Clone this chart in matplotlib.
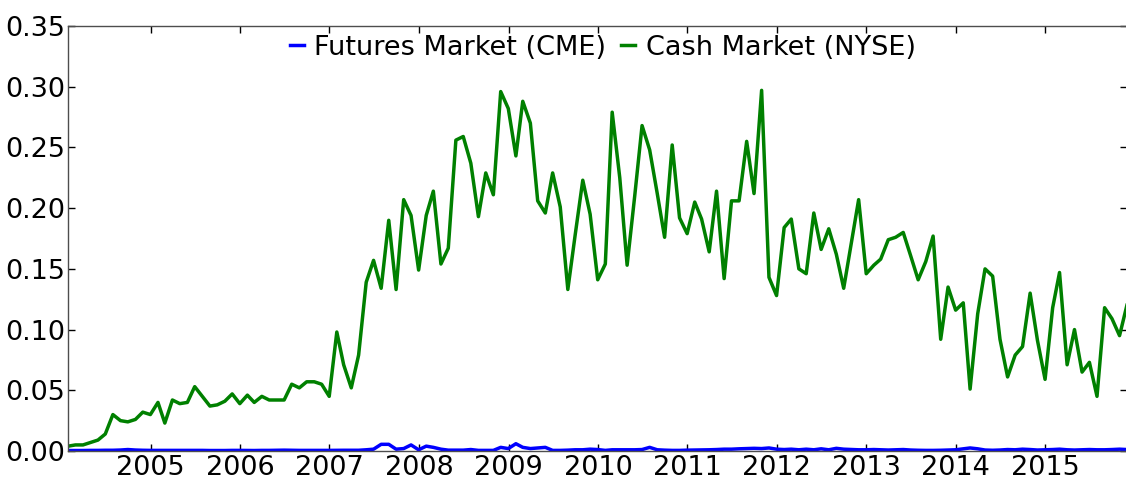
import matplotlib
matplotlib.use("Agg")
import matplotlib.pyplot as plt
import matplotlib.dates as mdates
import pandas as pd

# Monthly observations (month ends), Jan 2004 .. Nov 2015
dates = pd.date_range("2004-01-01", periods=143, freq="MS") + pd.offsets.MonthEnd(0)

cash_nyse = [
    0.004, 0.005, 0.005, 0.007, 0.009, 0.014, 0.030, 0.025, 0.024, 0.026, 0.032, 0.030,
    0.040, 0.023, 0.042, 0.039, 0.040, 0.053, 0.045, 0.037, 0.038, 0.041, 0.047, 0.039,
    0.046, 0.040, 0.045, 0.042, 0.042, 0.042, 0.055, 0.052, 0.057, 0.057, 0.055, 0.045,
    0.098, 0.071, 0.052, 0.079, 0.139, 0.157, 0.134, 0.190, 0.133, 0.207, 0.194, 0.149,
    0.194, 0.214, 0.154, 0.167, 0.256, 0.259, 0.237, 0.193, 0.229, 0.211, 0.296, 0.282,
    0.243, 0.288, 0.270, 0.206, 0.196, 0.229, 0.201, 0.133, 0.178, 0.223, 0.195, 0.141,
    0.154, 0.279, 0.225, 0.153, 0.210, 0.268, 0.248, 0.212, 0.176, 0.252, 0.192, 0.179,
    0.205, 0.191, 0.164, 0.214, 0.142, 0.206, 0.206, 0.255, 0.212, 0.297, 0.143, 0.128,
    0.184, 0.191, 0.150, 0.146, 0.196, 0.166, 0.183, 0.162, 0.134, 0.171, 0.207, 0.146,
    0.153, 0.158, 0.174, 0.176, 0.180, 0.161, 0.141, 0.156, 0.177, 0.092, 0.135, 0.116,
    0.122, 0.051, 0.113, 0.150, 0.144, 0.092, 0.061, 0.079, 0.086, 0.130, 0.091, 0.059,
    0.118, 0.147, 0.071, 0.100, 0.065, 0.073, 0.045, 0.118, 0.109, 0.095, 0.120,
]

futures_cme = [
    0.0004, 0.0004, 0.0004, 0.0005, 0.0005, 0.0006, 0.0006, 0.0008, 0.0012, 0.0008, 0.0006, 0.0005,
    0.0005, 0.0005, 0.0005, 0.0005, 0.0005, 0.0005, 0.0005, 0.0004, 0.0004, 0.0004, 0.0005, 0.0005,
    0.0004, 0.0004, 0.0005, 0.0005, 0.0006, 0.0007, 0.0006, 0.0005, 0.0005, 0.0005, 0.0005, 0.0005,
    0.0006, 0.0006, 0.0006, 0.0006, 0.0010, 0.0015, 0.0055, 0.0055, 0.0015, 0.0020, 0.0050, 0.0010,
    0.0040, 0.0030, 0.0015, 0.0007, 0.0007, 0.0007, 0.0012, 0.0005, 0.0005, 0.0005, 0.0030, 0.0020,
    0.0060, 0.0030, 0.0020, 0.0025, 0.0030, 0.0005, 0.0005, 0.0007, 0.0010, 0.0010, 0.0015, 0.0012,
    0.0005, 0.0010, 0.0010, 0.0010, 0.0010, 0.0012, 0.0030, 0.0010, 0.0007, 0.0005, 0.0005, 0.0007,
    0.0008, 0.0008, 0.0010, 0.0012, 0.0015, 0.0015, 0.0018, 0.0020, 0.0022, 0.0020, 0.0025, 0.0015,
    0.0012, 0.0015, 0.0010, 0.0015, 0.0010, 0.0018, 0.0010, 0.0022, 0.0015, 0.0012, 0.0010, 0.0010,
    0.0012, 0.0010, 0.0008, 0.0010, 0.0012, 0.0008, 0.0006, 0.0005, 0.0005, 0.0006, 0.0008, 0.0010,
    0.0018, 0.0025, 0.0018, 0.0008, 0.0006, 0.0008, 0.0012, 0.0010, 0.0015, 0.0012, 0.0008, 0.0010,
    0.0012, 0.0015, 0.0010, 0.0008, 0.0010, 0.0012, 0.0010, 0.0010, 0.0012, 0.0015, 0.0012,
]

series_labels = ["Futures Market (CME)", "Cash Market (NYSE)"]
y_ticks = [0.00, 0.05, 0.10, 0.15, 0.20, 0.25, 0.30, 0.35]

plt.rcParams["font.family"] = ["DejaVu Sans"]
fs = 19.5

fig = plt.figure(figsize=(11.26, 4.78), dpi=100)
ax = fig.add_axes([68.3 / 1126, 27.0 / 478, 1058.6 / 1126, 425.0 / 478])

ax.plot(dates, futures_cme, color=(0, 0, 1), lw=2.5, label=series_labels[0])
ax.plot(dates, cash_nyse, color=(0, 0.5, 0), lw=2.5, label=series_labels[1])

ax.set_xlim(dates[0], dates[-1])
ax.set_ylim(0, 0.35)
ax.set_yticks(y_ticks)
ax.set_yticklabels([f"{v:.2f}" for v in y_ticks])
ax.xaxis.set_major_locator(mdates.YearLocator())
ax.xaxis.set_major_formatter(mdates.DateFormatter("%Y"))

ax.tick_params(axis="both", direction="in", length=5, width=1, colors="black",
               labelsize=fs, top=True, right=True)
ax.tick_params(axis="y", pad=2)
ax.tick_params(axis="x", pad=3)
for s in ax.spines.values():
    s.set_color("0.3")
    s.set_linewidth(1)

leg = ax.legend(loc="upper center", bbox_to_anchor=(0.505, 1.005), ncol=2, frameon=False,
                fontsize=fs, handlelength=0.5, handletextpad=0.4, columnspacing=0.55,
                borderaxespad=0.0)

fig.savefig("out.png", dpi=100)
